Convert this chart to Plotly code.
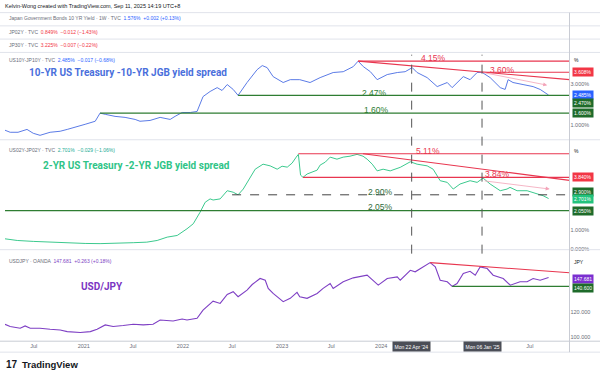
import plotly.graph_objects as go

# ---------------- data ----------------
X_START = "2020-03-17"
X_END = "2025-11-24"

spread10_dates = ["2020-03-17","2020-04-05","2020-05-04","2020-05-30","2020-06-06","2020-06-29","2020-07-24","2020-08-30",
    "2020-10-06","2020-11-01","2020-11-30","2021-01-06","2021-02-12","2021-03-02","2021-03-21","2021-04-26","2021-06-02",
    "2021-07-09","2021-07-27","2021-09-02","2021-10-09","2021-11-15","2021-12-03","2021-12-29","2022-01-28","2022-02-22",
    "2022-03-16","2022-04-11","2022-05-07","2022-05-25","2022-06-13","2022-07-05","2022-07-23","2022-08-25","2022-10-01",
    "2022-10-20","2022-11-07","2022-11-29","2023-01-05","2023-01-31","2023-03-07","2023-04-14","2023-05-21","2023-07-08",
    "2023-08-14","2023-09-20","2023-10-08","2023-10-27","2023-11-22","2023-12-17","2024-01-23","2024-02-29","2024-03-29",
    "2024-04-24","2024-05-12","2024-06-18","2024-07-25","2024-08-31","2024-09-18","2024-10-29","2024-11-23","2024-12-19",
    "2025-01-06","2025-02-05","2025-03-14","2025-04-01","2025-04-12","2025-04-30","2025-06-06","2025-07-13","2025-08-08",
    "2025-09-08"]
spread10_values = [0.76,0.66,0.66,0.76,0.80,0.61,0.51,0.66,0.71,0.80,0.90,1.05,1.20,1.60,1.54,1.44,1.39,1.29,1.20,1.24,
    1.39,1.29,1.44,1.63,1.63,1.68,2.41,2.66,2.85,2.71,3.00,2.76,2.47,3.10,3.73,3.93,3.83,3.39,3.10,3.24,3.24,3.10,3.34,
    3.59,3.63,3.88,4.15,3.88,3.63,3.24,3.49,3.59,3.63,3.83,3.59,3.34,2.90,3.10,2.85,3.39,3.24,3.59,3.60,3.34,2.85,2.76,
    3.24,3.10,3.00,2.90,2.76,2.485]

spread2_dates = ["2020-03-17","2020-05-01","2020-06-29","2020-08-30","2020-11-01","2021-01-06","2021-03-02","2021-05-04",
    "2021-07-02","2021-08-21","2021-09-28","2021-11-04","2021-12-11","2022-01-16","2022-02-08","2022-03-05","2022-03-24",
    "2022-04-11","2022-04-22","2022-05-18","2022-06-13","2022-07-05","2022-07-23","2022-08-11","2022-08-29","2022-09-24",
    "2022-10-23","2022-11-18","2022-12-14","2023-01-01","2023-01-20","2023-02-07","2023-02-22","2023-03-02","2023-03-10",
    "2023-03-19","2023-04-03","2023-04-22","2023-05-10","2023-05-21","2023-06-09","2023-06-27","2023-07-22","2023-08-14",
    "2023-09-08","2023-10-04","2023-10-26","2023-11-10","2023-11-29","2023-12-17","2024-01-08","2024-02-03","2024-03-11",
    "2024-04-17","2024-05-12","2024-06-18","2024-07-10","2024-08-05","2024-08-31","2024-09-22","2024-10-17","2024-11-23",
    "2024-12-19","2025-01-10","2025-02-05","2025-03-14","2025-04-08","2025-04-19","2025-05-15","2025-06-21","2025-07-28",
    "2025-08-19","2025-09-08"]
spread2_values = [0.53,0.44,0.39,0.35,0.30,0.28,0.27,0.28,0.32,0.35,0.44,0.62,0.71,1.07,1.34,1.96,2.50,2.68,2.62,2.68,
    3.12,3.04,2.90,3.21,3.66,4.28,4.55,4.46,4.28,4.44,4.39,4.61,4.93,5.08,3.96,3.84,4.02,4.12,4.23,4.50,4.66,4.93,4.82,
    4.93,4.98,5.08,4.98,4.82,4.55,4.19,4.28,4.19,4.38,4.68,4.55,4.46,4.28,3.66,3.57,3.21,3.48,3.66,3.57,3.80,3.48,3.12,
    3.21,3.30,3.12,3.12,2.94,2.85,2.701]

usdjpy_dates = ["2020-03-17","2020-04-05","2020-05-12","2020-05-30","2020-06-18","2020-07-24","2020-08-30","2020-10-06",
    "2020-11-01","2020-12-19","2021-01-25","2021-02-19","2021-03-21","2021-04-19","2021-05-26","2021-07-02","2021-08-08",
    "2021-09-13","2021-10-09","2021-11-26","2021-12-29","2022-01-16","2022-02-22","2022-03-16","2022-04-22","2022-05-18",
    "2022-06-13","2022-07-05","2022-07-23","2022-08-25","2022-09-13","2022-10-12","2022-10-31","2022-11-11","2022-11-29",
    "2023-01-05","2023-01-31","2023-02-25","2023-03-07","2023-04-03","2023-05-10","2023-06-01","2023-06-27","2023-07-08",
    "2023-08-14","2023-09-20","2023-11-10","2023-11-29","2023-12-21","2024-01-23","2024-02-29","2024-03-11","2024-04-17",
    "2024-05-05","2024-06-03","2024-06-29","2024-07-18","2024-08-05","2024-08-31","2024-09-18","2024-10-06","2024-10-29",
    "2024-11-23","2024-12-12","2024-12-30","2025-01-25","2025-02-16","2025-03-25","2025-04-20","2025-05-26","2025-06-21",
    "2025-07-13","2025-08-08","2025-09-08"]
usdjpy_values = [110.5,108.7,107.4,109.2,107.4,107.4,106.6,106.0,104.7,104.0,104.7,106.6,110.0,108.7,109.5,110.5,110.0,
    110.5,113.9,113.1,114.7,113.9,115.3,121.8,128.9,127.1,134.2,136.4,132.4,137.6,142.1,146.9,145.5,139.0,135.0,128.5,
    131.1,135.8,132.4,131.1,135.0,139.0,142.9,139.0,144.3,147.4,149.5,145.5,141.6,146.9,148.2,145.5,153.4,152.2,156.1,
    159.5,156.1,145.5,144.3,140.6,142.9,150.8,152.6,149.5,156.1,154.8,149.5,146.9,141.6,144.3,144.3,146.9,145.5,147.681]

# drawn levels: (start date, start value, end date, end value)
p1_red = [("2023-10-08", 4.15, X_END, 4.15), ("2025-01-06", 3.60, X_END, 3.60), ("2023-10-08", 4.15, X_END, 3.24)]
p1_green = [("2022-07-23", 2.47, X_END, 2.47), ("2021-03-02", 1.60, X_END, 1.60)]
p2_red = [("2023-03-02", 5.11, X_END, 5.11), ("2023-03-19", 3.84, X_END, 3.84), ("2023-10-26", 5.11, X_END, 3.68)]
p2_green = [(X_START, 2.05, X_END, 2.05)]
p2_dash = [("2022-07-01", 2.90, X_END, 2.90)]
p3_red = [("2024-06-29", 159.5, X_END, 151.4)]
p3_green = [("2024-09-18", 140.6, X_END, 140.6)]
p1_arrow = ("2025-01-06", 3.60, "2025-09-03", 2.97)
p2_arrow = ("2025-01-10", 3.66, "2025-09-12", 3.21)
event_dates = ["2024-04-22", "2025-01-06"]
event_labels = ["Mon 22 Apr '24", "Mon 06 Jan '25"]

time_ticks = ["2020-07-01","2021-01-01","2021-07-01","2022-01-01","2022-07-01","2023-01-01","2023-07-01",
              "2024-01-01","2025-07-01"]
time_labels = ["Jul","2021","Jul","2022","Jul","2023","Jul","2024","Jul"]

# ---------------- styling ----------------
BLUE = "#5b7be6"
GREEN_S = "#3cc98e"
PURPLE = "#7e3fc4"
RED = "#e8364f"
PINK = "#f3a3b8"
DGREEN = "#2e7d32"
GREY = "#6a6d78"
SEP = "#e0e3eb"
FONT = "Liberation Sans"
W, H = 600, 379


def py(p):
    return 1 - p / H


def px(p):
    return p / W


fig = go.Figure()

fig.add_trace(go.Scatter(x=spread10_dates, y=spread10_values, mode="lines", line=dict(color=BLUE, width=1),
                         xaxis="x", yaxis="y", hoverinfo="skip"))
fig.add_trace(go.Scatter(x=spread2_dates, y=spread2_values, mode="lines", line=dict(color=GREEN_S, width=1),
                         xaxis="x2", yaxis="y2", hoverinfo="skip"))
fig.add_trace(go.Scatter(x=usdjpy_dates, y=usdjpy_values, mode="lines", line=dict(color=PURPLE, width=1.1),
                         xaxis="x3", yaxis="y3", hoverinfo="skip"))


def seg(lst, xa, ya, color, width=1.1, dash="solid"):
    for (x0, y0, x1, y1) in lst:
        fig.add_trace(go.Scatter(x=[x0, x1], y=[y0, y1], mode="lines", line=dict(color=color, width=width, dash=dash),
                                 xaxis=xa, yaxis=ya, hoverinfo="skip"))


seg(p1_red, "x", "y", RED)
seg(p1_green, "x", "y", DGREEN)
seg(p2_red, "x2", "y2", RED)
seg(p2_green, "x2", "y2", DGREEN)
seg(p2_dash, "x2", "y2", "#444444", 1, "dash")
seg(p3_red, "x3", "y3", RED)
seg(p3_green, "x3", "y3", DGREEN)

XDOM = [px(5), px(569.5)]
axis_common = dict(showgrid=False, zeroline=False, range=[X_START, X_END], type="date", domain=XDOM)
yfont = dict(family=FONT, size=5.5, color=GREY)

fig.update_layout(
    width=W, height=H, margin=dict(l=0, r=0, t=0, b=0), showlegend=False,
    paper_bgcolor="white", plot_bgcolor="white",
    xaxis=dict(**axis_common, anchor="y", showticklabels=False),
    xaxis2=dict(**axis_common, anchor="y2", showticklabels=False),
    xaxis3=dict(**axis_common, anchor="y3", showticklabels=True, tickvals=time_ticks, ticktext=time_labels,
                ticks="", tickfont=dict(family=FONT, size=5.5, color=GREY)),
    yaxis=dict(domain=[py(140), py(52.7)], range=[0.317, 4.576], side="right", anchor="x", showgrid=False,
               zeroline=False, tickvals=[1, 3], ticktext=["1.000%", "3.000%"], tickfont=yfont, ticks=""),
    yaxis2=dict(domain=[py(250.5), py(141)], range=[-0.029, 5.839], side="right", anchor="x2", showgrid=False,
                zeroline=False, tickvals=[0, 1], ticktext=["0.000%", "1.000%"],
                tickfont=yfont, ticks=""),
    yaxis3=dict(domain=[py(343), py(252)], range=[97.07, 169.0], side="right", anchor="x3", showgrid=False,
                zeroline=False, tickvals=[100, 120], ticktext=["100.000", "120.000"],
                tickfont=yfont, ticks=""),
)

shapes = []
for p in [12.7, 26, 39.3, 52.7, 140.5, 251]:
    shapes.append(dict(type="line", xref="paper", yref="paper", x0=0, x1=1, y0=py(p), y1=py(p),
                       line=dict(color=SEP, width=1)))
shapes.append(dict(type="line", xref="paper", yref="paper", x0=0, x1=1, y0=py(343), y1=py(343),
                   line=dict(color="#c9ccd4", width=1)))
shapes.append(dict(type="line", xref="paper", yref="paper", x0=0, x1=1, y0=py(354), y1=py(354),
                   line=dict(color=SEP, width=1)))
shapes.append(dict(type="line", xref="paper", yref="paper", x0=px(569.5), x1=px(569.5), y0=py(354), y1=py(12.7),
                   line=dict(color="#c9ccd4", width=1)))
for d in event_dates:
    shapes.append(dict(type="line", xref="x", yref="paper", x0=d, x1=d, y0=py(255), y1=py(55),
                       line=dict(color="#555555", width=1, dash="dash")))
fig.update_layout(shapes=shapes)

ann = []


def txt(x, y, text, size=5.5, color=GREY, xanchor="left", family=FONT):
    ann.append(dict(x=x, y=y, xref="paper", yref="paper", text=text, showarrow=False, xanchor=xanchor,
                    yanchor="middle", font=dict(family=family, size=size, color=color)))


txt(px(3), py(6), "Kelvin-Wong created with TradingView.com, Sep 11, 2025 14:19 UTC+8", 5.5, "#131722")
txt(px(7), py(18.5), "Japan Government Bonds 10 YR Yield · 1W · TVC  <span style='color:#2962ff'>1.576%  +0.002 (+0.13%)</span>", 5)
txt(px(7), py(32.3), "JP02Y · TVC  <span style='color:#f23645'>0.849%  −0.012 (−1.43%)</span>", 5)
txt(px(7), py(45.7), "JP30Y · TVC  <span style='color:#f23645'>3.225%  −0.007 (−0.22%)</span>", 5)
txt(px(7), py(60), "US10Y-JP10Y · TVC  <span style='color:#2962ff'>2.485%  −0.017 (−0.68%)</span>", 5)
txt(px(7), py(150.5), "US02Y-JP02Y · TVC  <span style='color:#22ab94'>2.701%  −0.029 (−1.06%)</span>", 5)
txt(px(7), py(262.7), "USDJPY · OANDA  <span style='color:#7e3fc4'>147.681  +0.263 (+0.18%)</span>", 5)

# pane titles
txt(px(128), py(73), "<b>10-YR US Treasury -10-YR JGB yield spread</b>", 10, "#4a6fdc", "center", "Roboto")
txt(px(136), py(166), "<b>2-YR US Treasury -2-YR JGB yield spread</b>", 10, "#2fc487", "center", "Roboto")
txt(px(102), py(288), "<b>USD/JPY</b>", 10, "#7b35c2", "center", "Roboto")

# TradingView logo
txt(px(4), py(366), "<b>17</b>", 10, "#131722")
txt(px(20), py(366), "<b>TradingView</b>", 9.5, "#131722")


def lvl(xr, yr, x, y, text, color, size=8.5):
    ann.append(dict(x=x, y=y, xref=xr, yref=yr, text=text, showarrow=False, xanchor="center", yanchor="middle",
                    font=dict(family=FONT, size=size, color=color)))


lvl("x", "y", "2024-07-10", 4.32, "4.15%", RED)
lvl("x", "y", "2025-03-21", 3.73, "3.60%", RED)
lvl("x", "y", "2023-12-09", 2.61, "2.47%", DGREEN)
lvl("x", "y", "2023-12-16", 1.73, "1.60%", DGREEN)
lvl("x2", "y2", "2024-06-22", 5.25, "5.11%", RED)
lvl("x2", "y2", "2025-03-03", 4.02, "3.84%", RED)
lvl("x2", "y2", "2023-12-28", 3.05, "2.90%", "#2e6b3a")
lvl("x2", "y2", "2023-12-28", 2.25, "2.05%", "#2e6b3a")

for (xa, ya, a) in [("x", "y", p1_arrow), ("x2", "y2", p2_arrow)]:
    ann.append(dict(x=a[2], y=a[3], ax=a[0], ay=a[1], xref=xa, yref=ya, axref=xa, ayref=ya, text="",
                    showarrow=True, arrowhead=2, arrowsize=1, arrowwidth=0.8, arrowcolor=PINK))


def box(yr, y, text, bg, fc="white"):
    ann.append(dict(x=px(572), y=y, xref="paper", yref=yr, text=text, showarrow=False, xanchor="left",
                    yanchor="middle", bgcolor=bg, borderpad=1, font=dict(family=FONT, size=5, color=fc)))


box("y", 4.19, "%", "white", "#131722")
box("y", 3.608, "3.608%", "#f23645")
box("y", 2.485, "2.485%", "#2962ff")
box("y", 2.12, "2.470%", "#1e6b2a")
box("y", 1.60, "1.600%", "#1e6b2a")
box("y2", 5.27, "%", "white", "#131722")
box("y2", 3.84, "3.840%", "#f23645")
box("y2", 3.07, "2.900%", "#1e6b2a")
box("y2", 2.677, "2.701%", "#22c37d")
box("y2", 2.05, "2.050%", "#1e6b2a")
box("y3", 160.3, "JPY", "white", "#131722")
box("y3", 146.3, "147.681", "#7b2fd0")
box("y3", 139.5, "140.600", "#1e6b2a")

for d, lab in zip(event_dates, event_labels):
    ann.append(dict(x=d, y=py(348.5), xref="x3", yref="paper", text=lab, showarrow=False, xanchor="center",
                    yanchor="middle", bgcolor="#4b4e57", borderpad=1.5,
                    font=dict(family=FONT, size=5, color="white")))

fig.update_layout(annotations=ann)
fig.write_html("out.html", config={"displayModeBar": False},
               post_script="document.body.style.margin='0';document.body.style.overflow='hidden';")
